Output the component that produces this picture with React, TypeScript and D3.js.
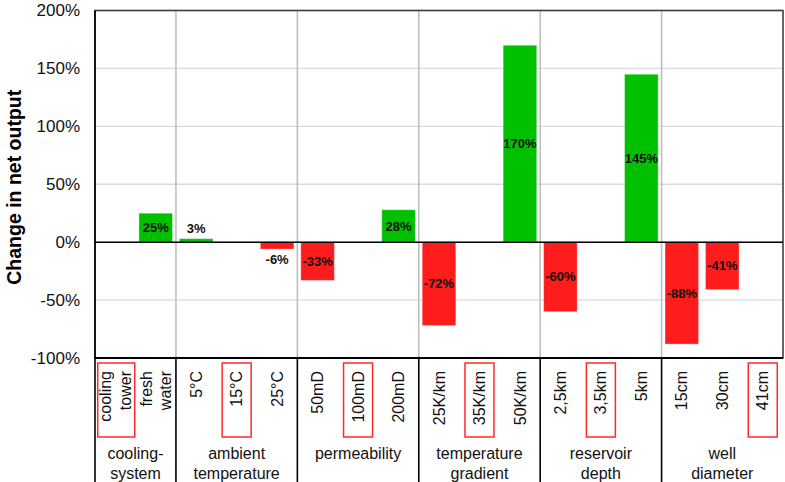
import React, { useEffect } from "react";
import * as d3 from "d3";

// Sensitivity of net output to each design parameter (relative to the reference case)
const categories = [
  "cooling tower", "fresh water",
  "5°C", "15°C", "25°C",
  "50mD", "100mD", "200mD",
  "25K/km", "35K/km", "50K/km",
  "2,5km", "3,5km", "5km",
  "15cm", "30cm", "41cm",
];
// null = reference case (no bar)
const changes: (number | null)[] = [
  null, 25,
  3, null, -6,
  -33, null, 28,
  -72, null, 170,
  -60, null, 145,
  -88, -41, null,
];
const groupNames = [
  "cooling- system",
  "ambient temperature",
  "permeability",
  "temperature gradient",
  "reservoir depth",
  "well diameter",
];
const groupSizes = [2, 3, 3, 3, 3, 3];
const yTicks = [-100, -50, 0, 50, 100, 150, 200];

const W = 785;
const H = 482;
const left = 95;
const right = 783;
const top = 10.5;
const bottom = 358;

const FONT = "'Liberation Sans', Arial, Helvetica, sans-serif";
const GREEN = "#00c000";
const RED = "#ff1c1c";

function splitLabel(s: string): string[] {
  if (s === "cooling tower") return ["cooling", "tower"];
  if (s === "fresh water") return ["fresh", "water"];
  return [s];
}

function groupLines(s: string): string[] {
  if (s === "cooling- system") return ["cooling-", "system"];
  if (s === "ambient temperature") return ["ambient", "temperature"];
  if (s === "temperature gradient") return ["temperature", "gradient"];
  if (s === "reservoir depth") return ["reservoir", "depth"];
  if (s === "well diameter") return ["well", "diameter"];
  return [s];
}

export default function App() {
  useEffect(() => {
    document.body.style.margin = "0";
  }, []);

  const x = d3.scaleBand<string>().domain(categories).range([left, right]).paddingInner(0.17).paddingOuter(0.085);
  const xFull = d3.scaleBand<string>().domain(categories).range([left, right]);
  const y = d3.scaleLinear().domain([-100, 200]).range([bottom, top]);

  // group boundaries in band units
  const bounds: number[] = [];
  let acc = 0;
  groupSizes.forEach((n) => {
    bounds.push(acc);
    acc += n;
  });
  const step = xFull.step();
  const bx = (i: number) => left + i * step;

  return (
    <svg width={W} height={H} style={{ display: "block", background: "#fff" }} fontFamily={FONT}>
      {/* horizontal gridlines */}
      {yTicks.map((t) => (
        <line key={"h" + t} x1={left} x2={right} y1={y(t)} y2={y(t)} stroke="#d9d9d9" strokeWidth={1.3} />
      ))}
      {/* vertical group separators inside plot */}
      {bounds.slice(1).map((b) => (
        <line key={"gv" + b} x1={bx(b)} x2={bx(b)} y1={top} y2={bottom} stroke="#bfbfbf" strokeWidth={1.6} />
      ))}

      {/* bars */}
      {categories.map((c, i) => {
        const v = changes[i];
        if (v === null) return null;
        const y0 = y(Math.max(0, v));
        const y1 = y(Math.min(0, v));
        return (
          <rect key={"b" + c} x={x(c)} y={y0} width={x.bandwidth()} height={y1 - y0}
            fill={v >= 0 ? GREEN : RED} stroke="rgba(255,255,255,0.35)" strokeWidth={1} />
        );
      })}

      {/* plot frame */}
      <rect x={left} y={top} width={right - left} height={bottom - top} fill="none" stroke="#404040" strokeWidth={1.6} />
      <line x1={left} x2={right} y1={y(0)} y2={y(0)} stroke="#000" strokeWidth={1.5} />
      <line x1={left} x2={right} y1={bottom} y2={bottom} stroke="#000" strokeWidth={1.8} />
      <line x1={left} x2={left} y1={top} y2={H} stroke="#000" strokeWidth={1.6} />

      {/* bar value labels */}
      {categories.map((c, i) => {
        const v = changes[i];
        if (v === null) return null;
        const cx = (x(c) as number) + x.bandwidth() / 2;
        const h = Math.abs(y(v) - y(0));
        let cy = (y(v) + y(0)) / 2;
        if (h < 16) cy = v >= 0 ? y(v) - 10 : y(v) + 10;
        return (
          <text key={"l" + c} x={cx} y={cy} dy="0.35em" textAnchor="middle" fontSize={13} fontWeight="bold" fill="#111">
            {v}%
          </text>
        );
      })}

      {/* y tick labels */}
      {yTicks.map((t) => (
        <text key={"t" + t} x={80} y={y(t)} dy="0.35em" textAnchor="end" fontSize={17} fill="#111">
          {t}%
        </text>
      ))}

      {/* y axis title */}
      <text transform={`translate(14,${(top + bottom) / 2 + 3}) rotate(-90)`} dy="0.35em" textAnchor="middle"
        fontSize={19.5} fontWeight="bold" fill="#000">
        Change in net output
      </text>

      {/* separators in category area */}
      {bounds.slice(1).map((b) => (
        <line key={"gs" + b} x1={bx(b)} x2={bx(b)} y1={bottom} y2={H} stroke="#000" strokeWidth={1.6} />
      ))}

      {/* reference-case boxes */}
      {categories.map((c, i) => {
        if (changes[i] !== null) return null;
        const lines = splitLabel(c);
        const w = lines.length > 1 ? 37 : 29;
        const cx = (xFull(c) as number) + step / 2 + (lines.length > 1 ? 1 : 0);
        return (
          <rect key={"r" + c} x={cx - w / 2} y={363} width={w} height={74} fill="none" stroke="#ff2a2a" strokeWidth={1.5} />
        );
      })}

      {/* rotated category labels */}
      {categories.map((c) => {
        const lines = splitLabel(c);
        const cx = (xFull(c) as number) + step / 2;
        return (
          <g key={"c" + c} transform={`translate(${cx},371) rotate(-90)`}>
            {lines.map((ln, k) => (
              <text key={k} x={0} y={(k - (lines.length - 1) / 2) * 19.5} dy="0.35em" textAnchor="end" fontSize={16} fill="#111">
                {ln}
              </text>
            ))}
          </g>
        );
      })}

      {/* group names */}
      {groupNames.map((g, gi) => {
        const cx = bx(bounds[gi] + groupSizes[gi] / 2);
        const lines = groupLines(g);
        return (
          <g key={"g" + g}>
            {lines.map((ln, k) => (
              <text key={k} x={cx} y={453 + k * 20} dy="0.35em" textAnchor="middle" fontSize={16} fill="#111">
                {ln}
              </text>
            ))}
          </g>
        );
      })}
    </svg>
  );
}
